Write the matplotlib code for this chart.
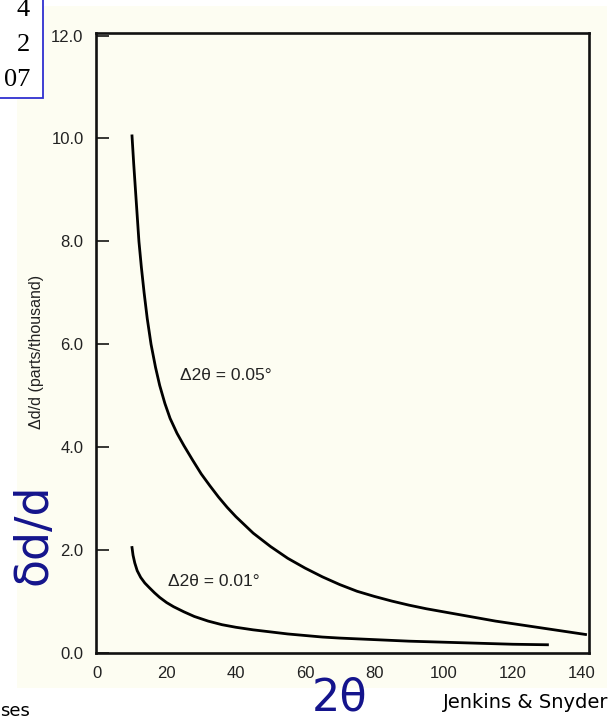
import matplotlib
matplotlib.use("Agg")
import matplotlib.pyplot as plt
from matplotlib.patches import Rectangle

# Curvas (2theta em graus, delta d/d em partes por mil)
two_theta_05 = [10, 10.5, 11, 11.5, 12, 12.7, 13.5, 14.4, 15.5, 16.8, 18,
                19.5, 21, 23, 25, 27.5, 30, 32.5, 35, 37.5, 40, 45, 50, 55,
                60, 65, 70, 75, 80, 85, 90, 95, 100, 105, 110, 115, 120, 125,
                130, 135, 141]
dd_05 = [10.05, 9.5, 9.0, 8.5, 8.0, 7.5, 7.0, 6.5, 6.0, 5.55, 5.2,
         4.85, 4.56, 4.27, 4.03, 3.75, 3.48, 3.25, 3.03, 2.83, 2.65, 2.33,
         2.07, 1.84, 1.65, 1.48, 1.33, 1.2, 1.1, 1.01, 0.93, 0.86, 0.80,
         0.74, 0.68, 0.62, 0.57, 0.52, 0.47, 0.42, 0.36]

two_theta_01 = [10, 10.3, 10.8, 11.5, 12.5, 13.7, 15, 16.5, 18, 20, 22, 25,
                28, 32, 36, 40, 45, 50, 55, 60, 65, 70, 80, 90, 100, 110,
                120, 130]
dd_01 = [2.05, 1.9, 1.75, 1.6, 1.47, 1.36, 1.27, 1.17, 1.08, 0.98, 0.9,
         0.8, 0.71, 0.62, 0.55, 0.5, 0.45, 0.41, 0.37, 0.34, 0.31, 0.29,
         0.26, 0.23, 0.21, 0.19, 0.17, 0.16]

xticks = [0, 20, 40, 60, 80, 100, 120, 140]
yticks = [0.0, 2.0, 4.0, 6.0, 8.0, 10.0, 12.0]
table_rows = ["4", "2", "07"]

CREAM = "#fdfdf2"
NAVY = "#14148c"
SANS = ["Liberation Sans", "DejaVu Sans"]

fig = plt.figure(figsize=(6.1, 7.2), dpi=100)
fig.add_artist(Rectangle((17 / 610, 32 / 720), 590 / 610, 682 / 720,
                         transform=fig.transFigure, facecolor=CREAM,
                         edgecolor="none", zorder=-5))

ax = fig.add_axes([96 / 610, 67 / 720, 493 / 610, 620 / 720])
ax.set_zorder(2)
ax.set_facecolor(CREAM)
ax.plot(two_theta_05, dd_05, color="black", linewidth=2.0,
        solid_joinstyle="round")
ax.plot(two_theta_01, dd_01, color="black", linewidth=2.0,
        solid_joinstyle="round")

ax.set_xlim(-0.4, 142)
ax.set_ylim(0, 12.05)
ax.set_xticks(xticks)
ax.set_yticks(yticks)
ax.set_xticklabels([str(v) for v in xticks], fontsize=12, family=SANS, color="#222222")
ax.set_yticklabels([f"{v:.1f}" for v in yticks], fontsize=12, family=SANS, color="#222222")
ax.tick_params(axis="y", direction="in", length=9, width=1.1, pad=9)
ax.tick_params(axis="x", length=0, pad=9)
for s in ax.spines.values():
    s.set_linewidth(1.9)
    s.set_color("#111111")

ax.set_ylabel("Δd/d (parts/thousand)", fontsize=11.5, family=SANS, color="#222222")
ax.yaxis.set_label_coords(-0.105, 0.485)

ax.text(23.9, 5.4, "Δ2θ = 0.05°", fontsize=12.5, family=SANS, va="center",
        color="#222222")
ax.text(20.3, 1.38, "Δ2θ = 0.01°", fontsize=12.5, family=SANS, va="center",
        color="#222222")

# Sobreposições da apresentação
fig.add_artist(Rectangle((-0.01, 622 / 720), 43 / 610 + 0.01, 0.2,
                         transform=fig.transFigure, facecolor="white",
                         edgecolor="#3030d0", linewidth=1.3, zorder=5))
for i, row in enumerate(table_rows):
    fig.text(30 / 610, 1 - (16 + 35 * i) / 720, row, fontsize=19,
             family="Liberation Serif", ha="right", va="baseline", zorder=6)

fig.text(57 / 610, 1 - 534 / 720, "δd/d", fontsize=33, rotation=90,
         color=NAVY, ha="right", va="center", zorder=6)
fig.text(340 / 610, 1 - 698 / 720, "2θ", fontsize=32, color=NAVY,
         ha="center", va="center", zorder=6)
fig.text(608 / 610, 1 - 702 / 720, "Jenkins & Snyder", fontsize=14,
         family="DejaVu Sans", ha="right", va="center", zorder=6)
fig.text(0, 1 - 716 / 720, "ses", fontsize=13, family="DejaVu Sans",
         ha="left", va="baseline", zorder=6)

fig.savefig("out.png", dpi=100)
